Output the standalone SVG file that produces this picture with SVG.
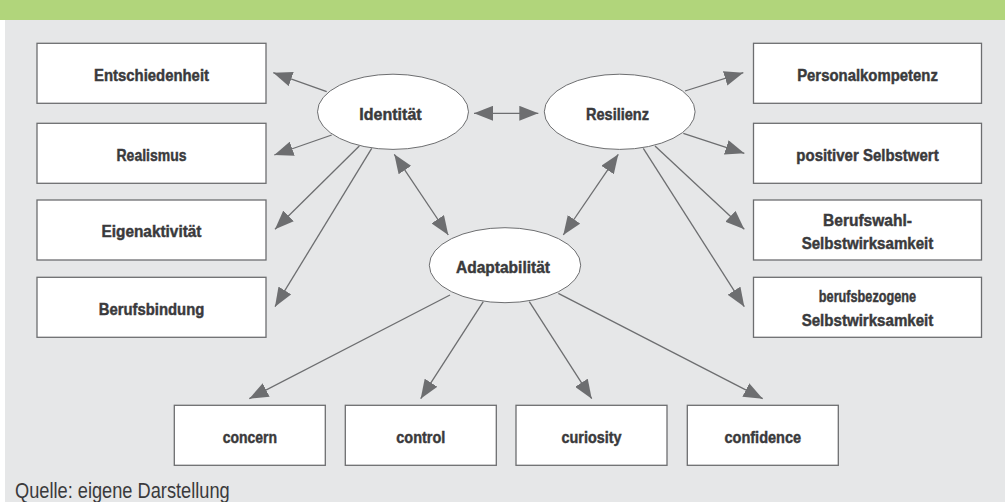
<svg xmlns="http://www.w3.org/2000/svg" width="1005" height="502" viewBox="0 0 1005 502">
<style>
.box{fill:#fff;stroke:#6d6e70;stroke-width:1.3}
.ell{fill:#fff;stroke:#6d6e70;stroke-width:1}
.lbl{font-family:"Liberation Sans",Arial,sans-serif;font-weight:bold;font-size:16.5px;fill:#3a3a3c;stroke:#3a3a3c;stroke-width:0.45px;text-anchor:middle}
.con{stroke:#6d6e70;stroke-width:1.3;fill:none;marker-end:url(#ah)}
.dbl{marker-start:url(#ah)}
.src{font-family:"Liberation Sans",Arial,sans-serif;font-size:22px;fill:#3a3a3c}
</style>
<defs>
<marker id="ah" markerUnits="userSpaceOnUse" markerWidth="20" markerHeight="15" refX="19" refY="7.5" orient="auto-start-reverse" viewBox="0 0 20 15">
<path d="M0,0 L19,7.5 L0,15 Z" fill="#6d6e70"/>
</marker>
</defs>
<rect x="0" y="0" width="1005" height="502" fill="#ffffff"/>
<rect x="5" y="0" width="1000" height="502" fill="#e6e7e8"/>
<rect x="0" y="0" width="1005" height="20" fill="#b1d57b"/>

<g id="connectors">
<line class="con" x1="326.7" y1="91.7" x2="273.3" y2="72.7"/>
<line class="con" x1="331.7" y1="135" x2="274.3" y2="155"/>
<line class="con" x1="359.3" y1="146" x2="275" y2="229.3"/>
<line class="con" x1="371.7" y1="148.3" x2="275" y2="306.7"/>
<line class="con" x1="685" y1="91" x2="743.3" y2="72.7"/>
<line class="con" x1="683.3" y1="133.3" x2="744.3" y2="153.3"/>
<line class="con" x1="655" y1="146" x2="744.3" y2="229.3"/>
<line class="con" x1="643.3" y1="148.3" x2="744.3" y2="306.7"/>
<line class="con dbl" x1="474" y1="113.3" x2="538.3" y2="113.3"/>
<line class="con dbl" x1="394.3" y1="154.3" x2="448.3" y2="235"/>
<line class="con dbl" x1="618.3" y1="154.3" x2="563.3" y2="235"/>
<line class="con" x1="450" y1="295" x2="249.3" y2="398.7"/>
<line class="con" x1="483.3" y1="301.7" x2="420.7" y2="398.7"/>
<line class="con" x1="529.3" y1="301.7" x2="591.7" y2="398.7"/>
<line class="con" x1="558.3" y1="293.3" x2="762.7" y2="398.7"/>
</g>

<g id="entschiedenheit"><rect class="box" x="37" y="43.3" width="229" height="60"/><text class="lbl" x="151.5" y="80.7" textLength="115" lengthAdjust="spacingAndGlyphs">Entschiedenheit</text></g>
<g id="realismus"><rect class="box" x="37" y="123.3" width="229" height="60"/><text class="lbl" x="151.5" y="160.7" textLength="70" lengthAdjust="spacingAndGlyphs">Realismus</text></g>
<g id="eigenaktivitaet"><rect class="box" x="37" y="200" width="229" height="60"/><text class="lbl" x="151.5" y="237.4" textLength="100" lengthAdjust="spacingAndGlyphs">Eigenaktivität</text></g>
<g id="berufsbindung"><rect class="box" x="37" y="277.3" width="229" height="60"/><text class="lbl" x="151.5" y="314.7" textLength="105.7" lengthAdjust="spacingAndGlyphs">Berufsbindung</text></g>

<g id="personalkompetenz"><rect class="box" x="753.5" y="43.3" width="228" height="60"/><text class="lbl" x="867.5" y="80.7" textLength="140.7" lengthAdjust="spacingAndGlyphs">Personalkompetenz</text></g>
<g id="selbstwert"><rect class="box" x="753.5" y="123.3" width="228" height="60"/><text class="lbl" x="867.5" y="160.7" textLength="142.3" lengthAdjust="spacingAndGlyphs">positiver Selbstwert</text></g>
<g id="berufswahl"><rect class="box" x="753.5" y="200" width="228" height="60"/><text class="lbl" x="867.5" y="226" textLength="89" lengthAdjust="spacingAndGlyphs">Berufswahl-</text><text class="lbl" x="867.5" y="249" textLength="131.7" lengthAdjust="spacingAndGlyphs">Selbstwirksamkeit</text></g>
<g id="berufsbezogene"><rect class="box" x="753.5" y="277.3" width="228" height="60"/><text class="lbl" x="867.5" y="302" textLength="97.3" lengthAdjust="spacingAndGlyphs">berufsbezogene</text><text class="lbl" x="867.5" y="326" textLength="131.7" lengthAdjust="spacingAndGlyphs">Selbstwirksamkeit</text></g>

<g id="identitaet"><ellipse class="ell" cx="393" cy="111.8" rx="75.5" ry="37.6"/><text class="lbl" x="390.5" y="120" textLength="62.3" lengthAdjust="spacingAndGlyphs">Identität</text></g>
<g id="resilienz"><ellipse class="ell" cx="619.7" cy="111.8" rx="75.4" ry="37.6"/><text class="lbl" x="617.5" y="120" textLength="63" lengthAdjust="spacingAndGlyphs">Resilienz</text></g>
<g id="adaptabilitaet"><ellipse class="ell" cx="505" cy="265.2" rx="75.7" ry="37.5"/><text class="lbl" x="503" y="272.7" textLength="94" lengthAdjust="spacingAndGlyphs">Adaptabilität</text></g>

<g id="concern"><rect class="box" x="174.3" y="405.3" width="151" height="60"/><text class="lbl" x="249.8" y="442.7" textLength="54.3" lengthAdjust="spacingAndGlyphs">concern</text></g>
<g id="control"><rect class="box" x="345.3" y="405.3" width="151" height="60"/><text class="lbl" x="420.8" y="442.7" textLength="49" lengthAdjust="spacingAndGlyphs">control</text></g>
<g id="curiosity"><rect class="box" x="516" y="405.3" width="151" height="60"/><text class="lbl" x="591.5" y="442.7" textLength="60" lengthAdjust="spacingAndGlyphs">curiosity</text></g>
<g id="confidence"><rect class="box" x="687.3" y="405.3" width="151" height="60"/><text class="lbl" x="762.8" y="442.7" textLength="76.7" lengthAdjust="spacingAndGlyphs">confidence</text></g>

<text class="src" x="15" y="497.5" textLength="214.7" lengthAdjust="spacingAndGlyphs">Quelle: eigene Darstellung</text>
</svg>
